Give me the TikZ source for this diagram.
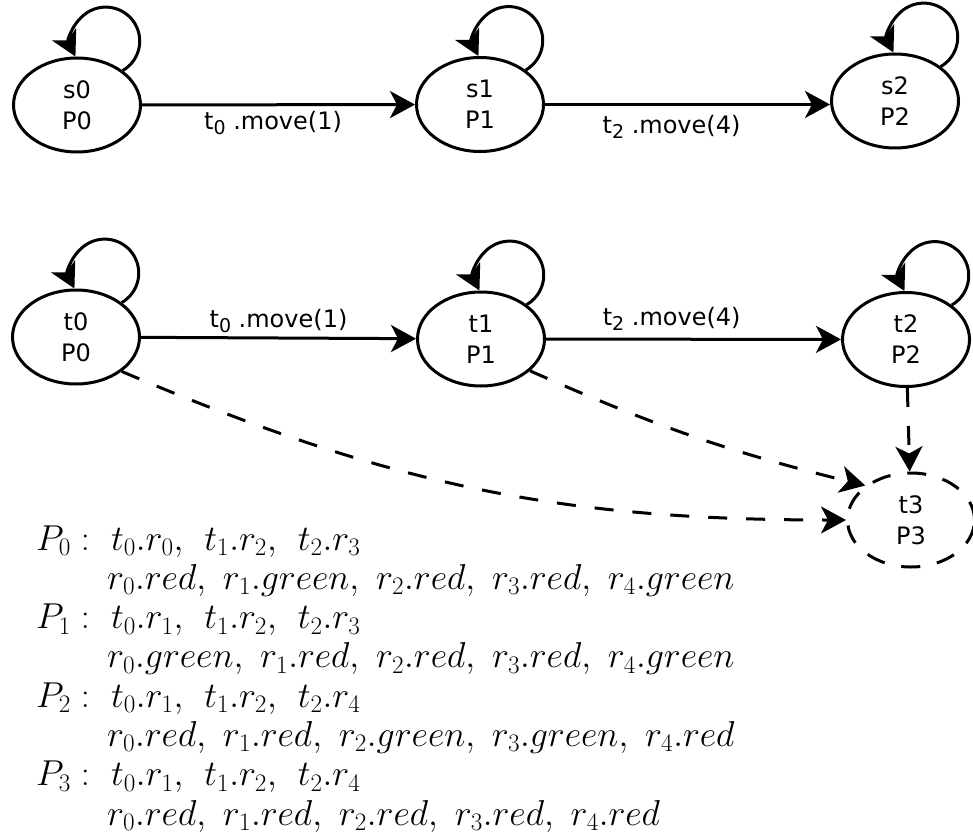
\RequirePackage{fix-cm}
\documentclass[tikz,border=0pt]{standalone}
\usepackage{fontspec}
\newfontfamily\nodefont{DejaVu Sans}
\usetikzlibrary{arrows.meta,shapes.geometric}
% lowered, slightly smaller index used in the transition labels
\newcommand\lowidx[1]{\raisebox{-5pt}{\fontsize{19}{19}\selectfont #1}}
% wider gap between the token assignments
\newcommand\tokgap{,\hspace{15pt}}
\begin{document}
\begin{tikzpicture}[x=1pt,y=1pt,
  state/.style={draw, ellipse, line width=3pt, minimum width=127pt,
    minimum height=94pt, inner sep=0pt, align=center,
    font=\nodefont\fontsize{24}{31}\selectfont},
  pending/.style={state, dash pattern=on 19pt off 17pt},
  tip/.style={-{Stealth[length=25pt,width=27pt,inset=7pt]}},
  move/.style={line width=3pt, tip},
  jump/.style={move, dash pattern=on 19pt off 19pt},
  lbl/.style={font=\nodefont\fontsize{24}{28}\selectfont, anchor=base,
    inner sep=0pt},
  prop/.style={anchor=base west, inner sep=0pt,
    font=\fontsize{36}{40}\selectfont}]
\useasboundingbox (0,0) rectangle (973,-834);

% upper chain
\node[state] (s0) at (77,-105) {s0\\P0};
\node[state] (s1) at (480,-104.5) {s1\\P1};
\node[state] (s2) at (895,-101) {s2\\P2};

% lower chain
\node[state] (t0) at (76,-337) {t0\\P0};
\node[state] (t1) at (481,-339) {t1\\P1};
\node[state] (t2) at (906,-339.5) {t2\\P2};
\node[pending] (t3) at (911,-520) {t3\\P3};

% self loops
\foreach \n in {s0,s1,s2,t0,t1,t2}
  \draw[move] (\n.37) arc[start angle=-60, end angle=207, radius=34];

% transitions
\draw[move] (s0) -- (s1)
  node[lbl, pos=0.48, yshift=-25pt] {t\lowidx{0} .move(1)};
\draw[move] (s1) -- (s2.west |- s1)
  node[lbl, pos=0.444, yshift=-29pt] {t\lowidx{2} .move(4)};
\draw[move] (t0) -- (t1)
  node[lbl, pos=0.5, yshift=11pt] {t\lowidx{0} .move(1)};
\draw[move] (t1) -- (t2)
  node[lbl, pos=0.426, yshift=14pt] {t\lowidx{2} .move(4)};

% dashed arrows into t3
\draw[jump] (t0.-37) to[out=-23, in=180] (t3.west);
\draw[jump] (t1.-33) to[bend right=5] (t3.143);
\draw[jump] (t2) -- (t3);

% properties of the states
\node[prop] (p0) at (36,-550) {$P_0 :$};
\node[prop] (a0) at (111,-550) {$t_0.r_0\tokgap t_1.r_2\tokgap t_2.r_3$};
\node[prop] (b0) at (107,-589.3) {$r_0.red,\ r_1.green,\ r_2.red,\ r_3.red,\ r_4.green$};
\node[prop] (p1) at (36,-628.6) {$P_1 :$};
\node[prop] (a1) at (111,-628.6) {$t_0.r_1\tokgap t_1.r_2\tokgap t_2.r_3$};
\node[prop] (b1) at (107,-667.9) {$r_0.green,\ r_1.red,\ r_2.red,\ r_3.red,\ r_4.green$};
\node[prop] (p2) at (36,-707.2) {$P_2 :$};
\node[prop] (a2) at (111,-707.2) {$t_0.r_1\tokgap t_1.r_2\tokgap t_2.r_4$};
\node[prop] (b2) at (107,-746.5) {$r_0.red,\ r_1.red,\ r_2.green,\ r_3.green,\ r_4.red$};
\node[prop] (p3) at (36,-785.8) {$P_3 :$};
\node[prop] (a3) at (111,-785.8) {$t_0.r_1\tokgap t_1.r_2\tokgap t_2.r_4$};
\node[prop] (b3) at (107,-825.1) {$r_0.red,\ r_1.red,\ r_2.red,\ r_3.red,\ r_4.red$};
\end{tikzpicture}
\end{document}
